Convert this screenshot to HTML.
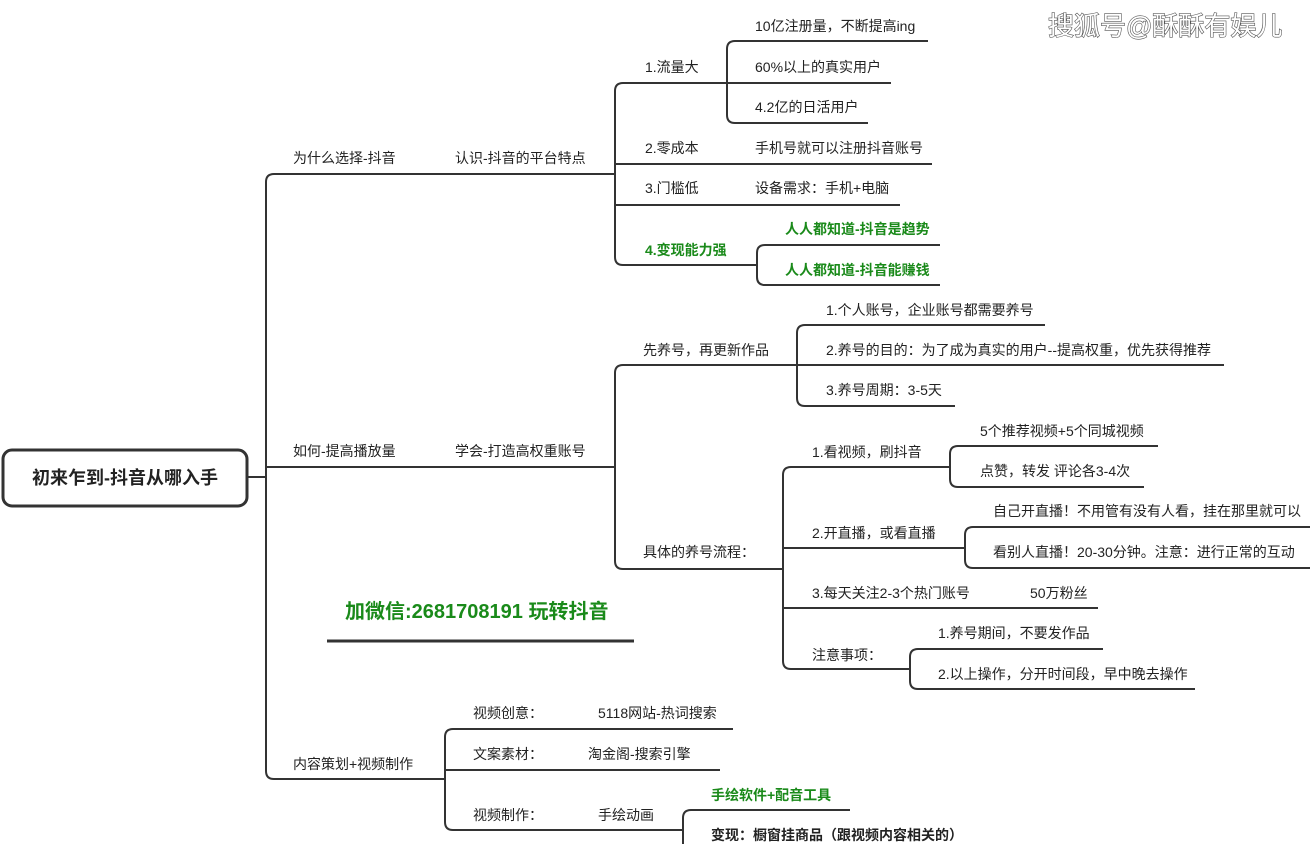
<!DOCTYPE html>
<html><head><meta charset="utf-8"><style>
html,body{margin:0;padding:0;background:#fff;width:1316px;height:844px;overflow:hidden}
svg{display:block}
text{font-family:"Liberation Sans","Noto Sans CJK SC",sans-serif;font-size:14px;fill:#222;dominant-baseline:central}
.g{fill:#1a8a1a;font-weight:bold}
.b{font-weight:bold}
line,path{stroke:#333;stroke-width:2;fill:none}
</style></head><body>
<svg width="1316" height="844" viewBox="0 0 1316 844">
<!-- root -->
<rect x="3" y="450" width="244" height="56" rx="9" fill="#fff" stroke="#333" stroke-width="3"/>
<text x="125" y="478" text-anchor="middle" class="b" style="font-size:18px">初来乍到-抖音从哪入手</text>
<line x1="247" y1="477" x2="266" y2="477"/>
<!-- main bracket -->
<path d="M274 174 Q266 174 266 182 L266 771 Q266 779 274 779"/>
<line x1="274" y1="174" x2="615" y2="174"/>
<line x1="266" y1="467" x2="615" y2="467"/>
<line x1="274" y1="779" x2="445" y2="779"/>
<text x="293" y="158">为什么选择-抖音</text>
<text x="455" y="158">认识-抖音的平台特点</text>
<text x="293" y="451">如何-提高播放量</text>
<text x="455" y="451">学会-打造高权重账号</text>
<text x="293" y="764">内容策划+视频制作</text>

<!-- branch1 -->
<path d="M623 83 Q615 83 615 91 L615 257 Q615 265 623 265"/>
<line x1="623" y1="83" x2="727" y2="83"/>
<line x1="615" y1="164" x2="932" y2="164"/>
<line x1="615" y1="205" x2="900" y2="205"/>
<line x1="623" y1="265" x2="757" y2="265"/>
<text x="645" y="67">1.流量大</text>
<text x="645" y="148">2.零成本</text>
<text x="645" y="188">3.门槛低</text>
<text x="645" y="250" class="g">4.变现能力强</text>
<path d="M735 41 Q727 41 727 49 L727 115 Q727 123 735 123"/>
<line x1="735" y1="41" x2="928" y2="41"/>
<line x1="727" y1="83" x2="891" y2="83"/>
<line x1="735" y1="123" x2="868" y2="123"/>
<text x="755" y="26">10亿注册量，不断提高ing</text>
<text x="755" y="67">60%以上的真实用户</text>
<text x="755" y="107">4.2亿的日活用户</text>
<text x="755" y="148">手机号就可以注册抖音账号</text>
<text x="755" y="188">设备需求：手机+电脑</text>
<path d="M765 245 Q757 245 757 253 L757 277 Q757 285 765 285"/>
<line x1="765" y1="245" x2="940" y2="245"/>
<line x1="765" y1="285" x2="940" y2="285"/>
<text x="785" y="229" class="g">人人都知道-抖音是趋势</text>
<text x="785" y="270" class="g">人人都知道-抖音能赚钱</text>

<!-- branch2 -->
<path d="M623 365 Q615 365 615 373 L615 561 Q615 569 623 569"/>
<line x1="623" y1="365" x2="797" y2="365"/>
<line x1="623" y1="569" x2="783" y2="569"/>
<text x="643" y="350">先养号，再更新作品</text>
<text x="643" y="552">具体的养号流程：</text>
<path d="M805 325 Q797 325 797 333 L797 398 Q797 406 805 406"/>
<line x1="805" y1="325" x2="1045" y2="325"/>
<line x1="797" y1="365" x2="1224" y2="365"/>
<line x1="805" y1="406" x2="955" y2="406"/>
<text x="826" y="310">1.个人账号，企业账号都需要养号</text>
<text x="826" y="350">2.养号的目的：为了成为真实的用户--提高权重，优先获得推荐</text>
<text x="826" y="390">3.养号周期：3-5天</text>

<path d="M791 467 Q783 467 783 475 L783 661 Q783 669 791 669"/>
<line x1="791" y1="467" x2="950" y2="467"/>
<line x1="783" y1="548" x2="965" y2="548"/>
<line x1="783" y1="608" x2="1098" y2="608"/>
<line x1="791" y1="669" x2="910" y2="669"/>
<text x="812" y="452">1.看视频，刷抖音</text>
<text x="812" y="533">2.开直播，或看直播</text>
<text x="812" y="593">3.每天关注2-3个热门账号</text>
<text x="1030" y="593">50万粉丝</text>
<text x="812" y="655">注意事项：</text>
<path d="M958 446 Q950 446 950 454 L950 479 Q950 487 958 487"/>
<line x1="958" y1="446" x2="1158" y2="446"/>
<line x1="958" y1="487" x2="1144" y2="487"/>
<text x="980" y="431">5个推荐视频+5个同城视频</text>
<text x="980" y="471">点赞，转发 评论各3-4次</text>
<path d="M973 527 Q965 527 965 535 L965 560 Q965 568 973 568"/>
<line x1="973" y1="527" x2="1310" y2="527"/>
<line x1="973" y1="568" x2="1310" y2="568"/>
<text x="993" y="511">自己开直播！不用管有没有人看，挂在那里就可以</text>
<text x="993" y="552">看别人直播！20-30分钟。注意：进行正常的互动</text>
<path d="M918 649 Q910 649 910 657 L910 681 Q910 689 918 689"/>
<line x1="918" y1="649" x2="1103" y2="649"/>
<line x1="918" y1="689" x2="1195" y2="689"/>
<text x="938" y="633">1.养号期间，不要发作品</text>
<text x="938" y="674">2.以上操作，分开时间段，早中晚去操作</text>

<!-- green promo -->
<text x="345" y="612" class="g" style="font-size:20px">加微信:2681708191 玩转抖音</text>
<line x1="327" y1="641" x2="634" y2="641" style="stroke-width:3"/>

<!-- branch3 -->
<path d="M453 729 Q445 729 445 737 L445 822 Q445 830 453 830"/>
<line x1="453" y1="729" x2="733" y2="729"/>
<line x1="445" y1="770" x2="720" y2="770"/>
<line x1="453" y1="830" x2="683" y2="830"/>
<text x="473" y="713">视频创意：</text>
<text x="598" y="713">5118网站-热词搜索</text>
<text x="473" y="754">文案素材：</text>
<text x="588" y="754">淘金阁-搜索引擎</text>
<text x="473" y="815">视频制作：</text>
<text x="598" y="815">手绘动画</text>
<path d="M691 810 Q683 810 683 818 L683 850"/>
<line x1="691" y1="810" x2="850" y2="810"/>
<text x="711" y="795" class="g">手绘软件+配音工具</text>
<text x="711" y="835" class="b">变现：橱窗挂商品（跟视频内容相关的）</text>

<!-- watermark -->
<text x="1048" y="26" style="font-size:26px;fill:#fff;stroke:#555;stroke-width:1.2;paint-order:stroke">搜狐号@酥酥有娱儿</text>
</svg>
</body></html>
